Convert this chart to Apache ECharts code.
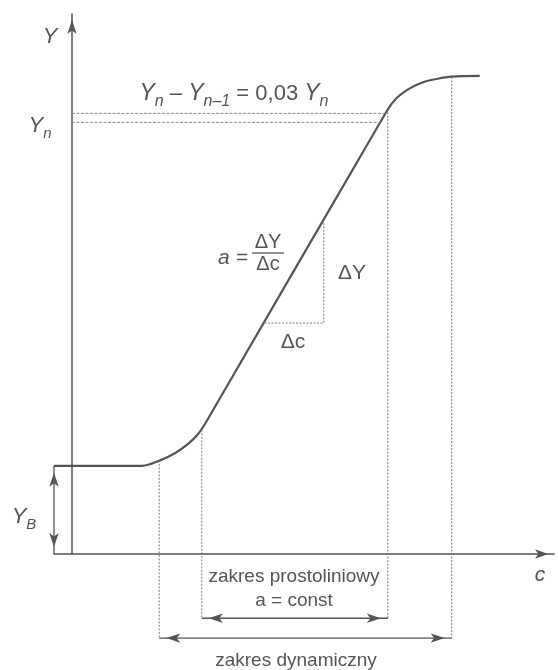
<!DOCTYPE html>
<html>
<head>
<meta charset="utf-8">
<script src="https://cdn.jsdelivr.net/npm/echarts@6/dist/echarts.min.js"></script>
<style>
  html, body { margin: 0; padding: 0; background: #fff; }
  #chart { width: 558px; height: 670px; }
</style>
</head>
<body>
<div id="chart"></div>
<script>
// krzywa kalibracyjna: c (stezenie) -> Y (sygnal), jednostki umowne
const curveC = [-1, 3.9, 4.89, 5.72, 6.44, 7.0, 7.5, 17.48, 18.04, 18.78, 19.52, 20.26, 21.09, 22.67];
const curveY = [4.9, 4.9, 5.2, 5.6, 6.1, 6.65, 7.4, 24.57, 25.32, 25.87, 26.21, 26.39, 26.52, 26.56];

const blankY = 4.9;                    // Y_B
const levelY = [24.48, 23.98];         // Y_n, Y_n-1
const levelEndC = [17.44, 17.15];

// pionowe linie pomocnicze (dol -> gora)
const guideC = [4.85, 7.22, 17.56, 21.11];
const guideTop = [5.2, 6.9, 24.55, 26.5];
const guideBottom = [-4.67, -3.57, -3.57, -4.67];

// zakresy pod osia
const linearRange = [7.22, 17.56];
const dynamicRange = [4.85, 21.11];
const rangeY = [-3.57, -4.67];

// trojkat nachylenia
const slopeC = [14.0, 14.0, 10.68];
const slopeY = [18.4, 12.83, 12.83];

const INK = '#555';
const DOT = '#7c7c7c';
const FONT = 'Liberation Sans, Arial, sans-serif';
const HEAD = [7, 14];

const chart = echarts.init(document.getElementById('chart'));

const pairs = (xs, ys) => xs.map((x, i) => [x, ys[i]]);

function plain(name, data, style, smooth) {
  return {
    type: 'line', name, data, clip: false, silent: true, animation: false,
    symbol: 'none', lineStyle: style, emphasis: { disabled: true },
    smooth: smooth || false,
  };
}

function doubleArrow(name, a, b, vertical) {
  const h = HEAD[1] / 2;
  return {
    type: 'line', name, clip: false, silent: true, animation: false,
    symbol: 'arrow', symbolSize: HEAD,
    lineStyle: { color: INK, width: 1.3 },
    itemStyle: { color: INK },
    emphasis: { disabled: true },
    data: vertical
      ? [{ value: a, symbolRotate: 0, symbolOffset: [0, h] }, { value: b, symbolRotate: 180, symbolOffset: [0, -h] }]
      : [{ value: a, symbolRotate: 90, symbolOffset: [h, 0] }, { value: b, symbolRotate: -90, symbolOffset: [-h, 0] }],
  };
}

const dotted = { color: DOT, width: 1, type: [2, 1.5] };

const series = [
  plain('krzywa', pairs(curveC, curveY), { color: '#555', width: 2.2 }, 0.35),
  plain('Yn', [[0, levelY[0]], [levelEndC[0], levelY[0]]], { color: '#8c8c8c', width: 1, type: [3, 1.5] }),
  plain('Yn-1', [[0, levelY[1]], [levelEndC[1], levelY[1]]], { color: '#8c8c8c', width: 1, type: [3, 1.5] }),
  plain('trojkat', pairs(slopeC, slopeY), dotted),
  doubleArrow('YB', [-1, blankY], [-1, 0], true),
  doubleArrow('prostoliniowy', [linearRange[0], rangeY[0]], [linearRange[1], rangeY[0]], false),
  doubleArrow('dynamiczny', [dynamicRange[0], rangeY[1]], [dynamicRange[1], rangeY[1]], false),
];
guideC.forEach((c, i) => {
  series.push(plain('pion' + i, [[c, guideTop[i]], [c, guideBottom[i]]], dotted));
});

function richSet(size, sub) {
  return {
    i: { fontFamily: FONT, fontStyle: 'italic', fontSize: size, fill: INK, color: INK },
    s: { fontFamily: FONT, fontStyle: 'italic', fontSize: sub, fill: INK, color: INK, padding: [16, 0, 0, 0] },
    r: { fontFamily: FONT, fontSize: size - 1, fill: INK, color: INK },
  };
}

function text(x, y, str, size, italic, rich) {
  return {
    type: 'text', silent: true,
    style: {
      x, y, text: str, fill: INK,
      font: (italic ? 'italic ' : '') + size + 'px ' + FONT,
      align: 'center', verticalAlign: 'middle',
      textAlign: 'center', textVerticalAlign: 'middle',
      rich,
    },
  };
}

chart.setOption({
  backgroundColor: '#fff',
  animation: false,
  grid: { left: 54, right: 4, top: 14, bottom: 116 },
  xAxis: {
    type: 'value', min: -1, max: 26.8,
    axisLine: {
      show: true, onZero: true,
      lineStyle: { color: INK, width: 1.5 },
      symbol: ['none', 'arrow'], symbolSize: [7, 13], symbolOffset: [0, -6],
    },
    axisTick: { show: false }, axisLabel: { show: false }, splitLine: { show: false },
  },
  yAxis: {
    type: 'value', min: 0, max: 30,
    axisLine: {
      show: true, onZero: true,
      lineStyle: { color: INK, width: 1.5 },
      symbol: ['none', 'arrow'], symbolSize: [7, 14], symbolOffset: [0, -6],
    },
    axisTick: { show: false }, axisLabel: { show: false }, splitLine: { show: false },
  },
  series,
  graphic: [
    text(50, 37, 'Y', 22, true),
    text(40, 126, '{i|Y}{s|n}', 22, true, richSet(22, 15)),
    text(234, 94, '{i|Y}{s|n}{r| – }{i|Y}{s|n–1}{r| = 0,03 }{i|Y}{s|n}', 23, false, richSet(23, 16)),
    text(24, 517, '{i|Y}{s|B}', 22, true, richSet(22, 15)),
    text(540, 575, 'c', 21, true),
    text(233, 258, 'a =', 21, true),
    text(268, 242, 'ΔY', 20, false),
    { type: 'line', silent: true, shape: { x1: 252, y1: 253, x2: 284, y2: 253 }, style: { stroke: INK, lineWidth: 1.3 } },
    text(268, 264, 'Δc', 20, false),
    text(352, 273, 'ΔY', 21, false),
    text(293, 342, 'Δc', 21, false),
    text(294, 577, 'zakres prostoliniowy', 19, false),
    text(294, 601, 'a = const', 19, false),
    text(296, 661, 'zakres dynamiczny', 19, false),
  ],
});
</script>
</body>
</html>
